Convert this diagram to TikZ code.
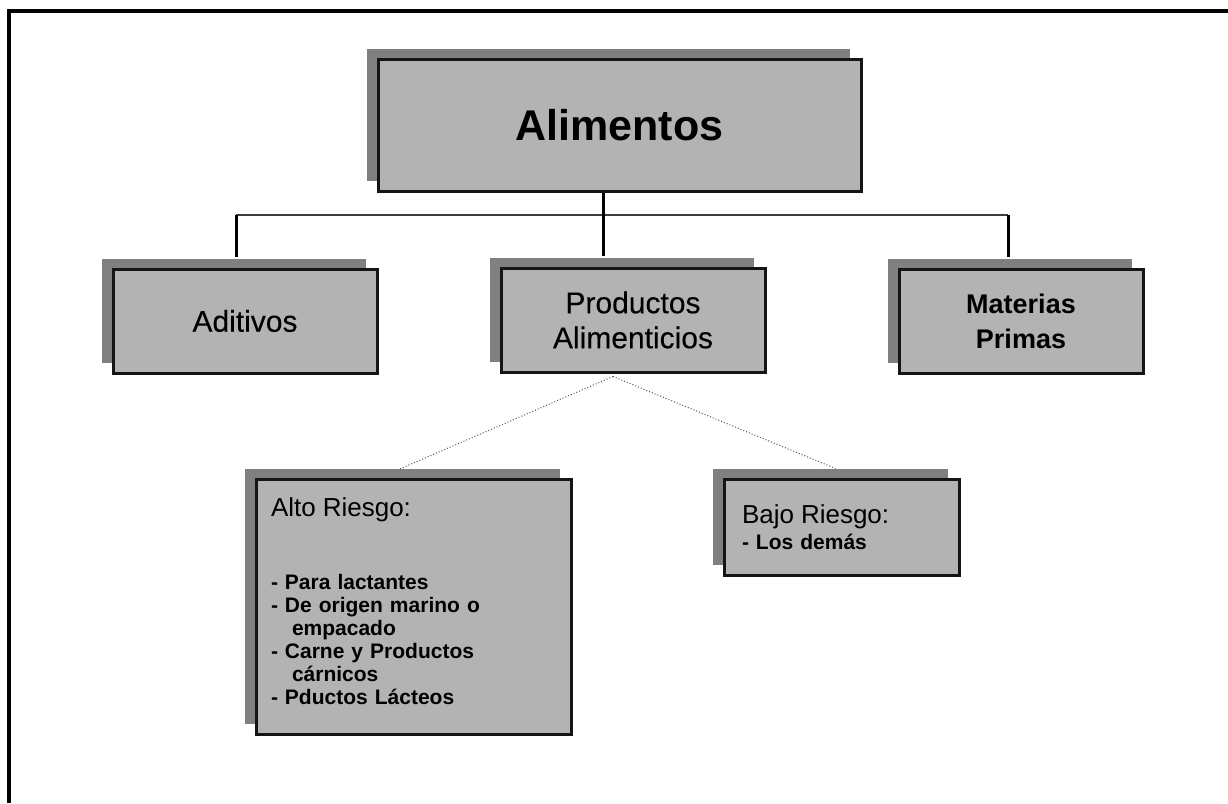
\documentclass[tikz,border=0pt]{standalone}
\usepackage{fontspec}
\setmainfont{Liberation Sans}
\newfontfamily\medfont{Liberation Sans}[FakeBold=0.15]
\usetikzlibrary{shadows,calc}
\definecolor{boxfill}{HTML}{B3B3B3}
\definecolor{shade}{HTML}{808080}
\definecolor{edge}{HTML}{151515}
\definecolor{busgray}{HTML}{3C3C3C}
\definecolor{dotgray}{HTML}{555555}
\begin{document}
\begin{tikzpicture}[x=1pt,y=-1pt,
  box/.style={draw=edge, line width=3pt, fill=boxfill, inner sep=0pt,
    drop shadow={shadow xshift=-11pt, shadow yshift=10pt, fill=shade, opacity=1}},
  frame/.style={line width=4pt, black},
  bus/.style={line width=1.4pt, busgray},
  stem/.style={line width=3pt, black},
  dots/.style={line width=1pt, dotgray, dash pattern=on 1pt off 2pt}]
\useasboundingbox (0,0) rectangle (1228,803);
\fill[white] (0,0) rectangle (1228,803);
% frame
\draw[frame] (9,803) -- (9,11) -- (1228,11);

% boxes
\node[box, minimum width=483pt, minimum height=132pt,
  font=\fontsize{43}{48}\selectfont\bfseries] (ali) at (619.5,125) {Alimentos};
\node[box, minimum width=264pt, minimum height=104pt,
  font=\medfont\fontsize{30}{35}\selectfont] (adi) at (245,321) {Aditivos};
\node[box, minimum width=264pt, minimum height=104pt, align=center,
  font=\medfont\fontsize{30}{35}\selectfont] (prod) at (633,320) {Productos\\Alimenticios};
\node[box, minimum width=244pt, minimum height=104pt, align=center,
  font=\fontsize{27}{35}\selectfont\bfseries] (mat) at (1021,321) {Materias\\Primas};
\node[box, minimum width=315pt, minimum height=255pt, text width=285pt, align=left,
  font=\fontsize{21}{23}\selectfont\bfseries] (alto) at (413.5,606.5)
  {{\mdseries\fontsize{26}{23}\selectfont Alto Riesgo:}\\[50pt]
   - Para lactantes\\
   - De origen marino o\\
   \hspace*{21pt}empacado\\
   - Carne y Productos\\
   \hspace*{21pt}cárnicos\\
   - Pductos Lácteos\rule[-10pt]{0pt}{0pt}};
\node[box, minimum width=235pt, minimum height=96pt, text width=199pt, align=left,
  font=\fontsize{21}{26}\selectfont\bfseries] (bajo) at (841.5,527)
  {{\mdseries\fontsize{26}{26}\selectfont Bajo Riesgo:}\\
   - Los demás};

% connectors
\coordinate (busL) at (236,215);
\coordinate (busR) at (1008,215);
\draw[bus] (busL) -- (busR);
\draw[stem] ([xshift=-16.5pt]ali.south) -- ([xshift=-30pt,yshift=11pt]prod.north);
\draw[stem] (busL) -- ([xshift=-9pt,yshift=11pt]adi.north);
\draw[stem] (busR) -- ([xshift=-13pt,yshift=11pt]mat.north);

\coordinate (apex) at ($(prod.south)+(-20,3)$);
\draw[dots] (apex) -- ($(alto.north)+(-15,-8)$);
\draw[dots] (apex) -- ($(bajo.north)+(-6,-9)$);
\end{tikzpicture}
\end{document}
